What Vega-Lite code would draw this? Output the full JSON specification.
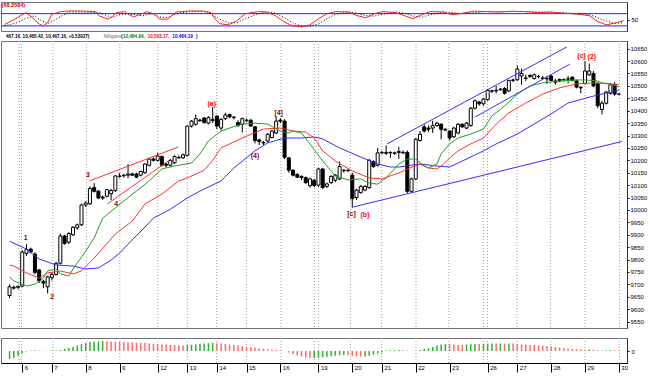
{
"$schema":"https://vega.github.io/schema/vega-lite/v6.json",
"background":"white",
"padding":{"top":1,"left":0,"right":0,"bottom":0},
"spacing":10,
"bounds":"flush",
"config":{"view":{"stroke":"#707070","strokeWidth":1},"font":"Liberation Sans","axis":{"labelFont":"Liberation Sans","labelFontSize":6,"labelColor":"black","tickColor":"black","domainColor":"black","grid":false,"labelOverlap":false,"tickCount":300}},
"datasets":{
"candles":[
{"b":-3,"o":9655,"h":9700,"l":9645,"c":9690},{"b":-2,"o":9688,"h":9695,"l":9678,"c":9685},{"b":-1,"o":9688,"h":9695,"l":9680,"c":9692},
{"b":0,"o":9693,"h":9838,"l":9688,"c":9830},{"b":1,"o":9825,"h":9862,"l":9815,"c":9840},{"b":2,"o":9842,"h":9848,"l":9825,"c":9830},
{"b":3,"o":9822,"h":9830,"l":9740,"c":9748},{"b":4,"o":9758,"h":9762,"l":9705,"c":9714},{"b":5,"o":9712,"h":9718,"l":9685,"c":9705},
{"b":6,"o":9690,"h":9735,"l":9663,"c":9730},{"b":7,"o":9728,"h":9748,"l":9715,"c":9740},{"b":8,"o":9740,"h":9790,"l":9735,"c":9785},
{"b":9,"o":9785,"h":9905,"l":9780,"c":9895},{"b":10,"o":9895,"h":9900,"l":9860,"c":9865},{"b":11,"o":9870,"h":9910,"l":9862,"c":9905},
{"b":12,"o":9900,"h":9935,"l":9895,"c":9930},{"b":13,"o":9928,"h":9945,"l":9920,"c":9940},{"b":14,"o":9940,"h":10025,"l":9935,"c":10020},
{"b":15,"o":10020,"h":10035,"l":10012,"c":10028},{"b":16,"o":10025,"h":10095,"l":10020,"c":10086},{"b":17,"o":10090,"h":10108,"l":10070,"c":10075},
{"b":18,"o":10076,"h":10080,"l":10045,"c":10048},{"b":19,"o":10052,"h":10058,"l":10040,"c":10048},{"b":20,"o":10055,"h":10085,"l":10050,"c":10082},
{"b":21,"o":10065,"h":10085,"l":10040,"c":10078},{"b":22,"o":10078,"h":10140,"l":10072,"c":10137},{"b":23,"o":10137,"h":10150,"l":10128,"c":10135},
{"b":24,"o":10138,"h":10145,"l":10130,"c":10140},{"b":25,"o":10140,"h":10185,"l":10128,"c":10145},{"b":26,"o":10145,"h":10150,"l":10138,"c":10140},
{"b":27,"o":10145,"h":10150,"l":10128,"c":10132},{"b":28,"o":10140,"h":10158,"l":10135,"c":10155},{"b":29,"o":10150,"h":10188,"l":10145,"c":10185},
{"b":30,"o":10180,"h":10210,"l":10175,"c":10205},{"b":31,"o":10205,"h":10212,"l":10195,"c":10200},{"b":32,"o":10200,"h":10230,"l":10195,"c":10217},
{"b":33,"o":10215,"h":10220,"l":10175,"c":10180},{"b":34,"o":10185,"h":10190,"l":10170,"c":10180},{"b":35,"o":10180,"h":10205,"l":10175,"c":10200},
{"b":36,"o":10190,"h":10220,"l":10185,"c":10215},{"b":37,"o":10212,"h":10220,"l":10205,"c":10210},{"b":38,"o":10210,"h":10228,"l":10205,"c":10222},
{"b":39,"o":10220,"h":10340,"l":10215,"c":10338},{"b":40,"o":10338,"h":10362,"l":10332,"c":10358},{"b":41,"o":10345,"h":10385,"l":10340,"c":10368},
{"b":42,"o":10362,"h":10368,"l":10355,"c":10360},{"b":43,"o":10370,"h":10375,"l":10348,"c":10352},{"b":44,"o":10350,"h":10378,"l":10345,"c":10372},
{"b":45,"o":10360,"h":10415,"l":10350,"c":10365},{"b":46,"o":10378,"h":10382,"l":10325,"c":10338},{"b":47,"o":10330,"h":10370,"l":10320,"c":10365},
{"b":48,"o":10368,"h":10392,"l":10362,"c":10383},{"b":49,"o":10385,"h":10388,"l":10370,"c":10375},{"b":50,"o":10374,"h":10378,"l":10365,"c":10372},
{"b":51,"o":10352,"h":10362,"l":10335,"c":10340},{"b":52,"o":10345,"h":10372,"l":10312,"c":10368},{"b":53,"o":10360,"h":10368,"l":10355,"c":10362},
{"b":54,"o":10362,"h":10365,"l":10335,"c":10338},{"b":55,"o":10335,"h":10338,"l":10268,"c":10280},{"b":56,"o":10282,"h":10288,"l":10262,"c":10275},
{"b":57,"o":10272,"h":10278,"l":10262,"c":10270},{"b":58,"o":10278,"h":10310,"l":10272,"c":10305},{"b":59,"o":10292,"h":10322,"l":10288,"c":10318},
{"b":60,"o":10310,"h":10375,"l":10305,"c":10358},{"b":61,"o":10362,"h":10370,"l":10350,"c":10358},{"b":62,"o":10358,"h":10366,"l":10205,"c":10212},
{"b":63,"o":10210,"h":10212,"l":10150,"c":10160},{"b":64,"o":10160,"h":10165,"l":10135,"c":10140},{"b":65,"o":10143,"h":10148,"l":10128,"c":10132},
{"b":66,"o":10135,"h":10140,"l":10120,"c":10130},{"b":67,"o":10130,"h":10135,"l":10105,"c":10110},{"b":68,"o":10098,"h":10130,"l":10090,"c":10125},
{"b":69,"o":10120,"h":10125,"l":10092,"c":10098},{"b":70,"o":10100,"h":10170,"l":10092,"c":10165},{"b":71,"o":10165,"h":10170,"l":10085,"c":10090},
{"b":72,"o":10095,"h":10110,"l":10088,"c":10105},{"b":73,"o":10110,"h":10140,"l":10105,"c":10135},{"b":74,"o":10120,"h":10145,"l":10112,"c":10140},
{"b":75,"o":10125,"h":10195,"l":10120,"c":10175},{"b":76,"o":10158,"h":10165,"l":10150,"c":10160},{"b":77,"o":10160,"h":10165,"l":10152,"c":10158},
{"b":78,"o":10140,"h":10150,"l":10010,"c":10045},{"b":79,"o":10050,"h":10085,"l":10040,"c":10080},{"b":80,"o":10070,"h":10100,"l":10065,"c":10095},
{"b":81,"o":10080,"h":10100,"l":10075,"c":10095},{"b":82,"o":10090,"h":10205,"l":10085,"c":10200},{"b":83,"o":10195,"h":10200,"l":10170,"c":10175},
{"b":84,"o":10180,"h":10250,"l":10175,"c":10230},{"b":85,"o":10230,"h":10238,"l":10225,"c":10232},{"b":86,"o":10228,"h":10260,"l":10222,"c":10232},
{"b":87,"o":10232,"h":10236,"l":10210,"c":10230},{"b":88,"o":10230,"h":10235,"l":10222,"c":10228},{"b":89,"o":10235,"h":10255,"l":10205,"c":10232},
{"b":90,"o":10232,"h":10240,"l":10225,"c":10230},{"b":91,"o":10232,"h":10240,"l":10068,"c":10075},{"b":92,"o":10075,"h":10130,"l":10070,"c":10125},
{"b":93,"o":10125,"h":10290,"l":10120,"c":10285},{"b":94,"o":10280,"h":10318,"l":10275,"c":10305},{"b":95,"o":10335,"h":10345,"l":10312,"c":10318},
{"b":96,"o":10330,"h":10340,"l":10315,"c":10325},{"b":97,"o":10330,"h":10360,"l":10310,"c":10340},{"b":98,"o":10340,"h":10355,"l":10335,"c":10350},
{"b":99,"o":10345,"h":10350,"l":10285,"c":10325},{"b":100,"o":10325,"h":10330,"l":10318,"c":10322},{"b":101,"o":10318,"h":10320,"l":10280,"c":10290},
{"b":102,"o":10295,"h":10335,"l":10290,"c":10330},{"b":103,"o":10310,"h":10350,"l":10305,"c":10345},{"b":104,"o":10345,"h":10350,"l":10330,"c":10335},
{"b":105,"o":10330,"h":10355,"l":10325,"c":10350},{"b":106,"o":10340,"h":10415,"l":10335,"c":10410},{"b":107,"o":10410,"h":10445,"l":10405,"c":10440},
{"b":108,"o":10435,"h":10440,"l":10420,"c":10428},{"b":109,"o":10428,"h":10452,"l":10420,"c":10447},{"b":110,"o":10445,"h":10488,"l":10440,"c":10482},
{"b":111,"o":10478,"h":10485,"l":10472,"c":10480},{"b":112,"o":10482,"h":10500,"l":10470,"c":10480},{"b":113,"o":10485,"h":10492,"l":10480,"c":10487},
{"b":114,"o":10490,"h":10495,"l":10465,"c":10470},{"b":115,"o":10480,"h":10525,"l":10475,"c":10522},{"b":116,"o":10522,"h":10530,"l":10515,"c":10524},
{"b":117,"o":10525,"h":10582,"l":10520,"c":10568},{"b":118,"o":10540,"h":10570,"l":10505,"c":10550},{"b":119,"o":10530,"h":10545,"l":10520,"c":10532},
{"b":120,"o":10538,"h":10548,"l":10532,"c":10542},{"b":121,"o":10530,"h":10550,"l":10525,"c":10545},{"b":122,"o":10538,"h":10545,"l":10530,"c":10538},
{"b":123,"o":10532,"h":10540,"l":10525,"c":10530},{"b":124,"o":10530,"h":10540,"l":10508,"c":10528},{"b":125,"o":10540,"h":10545,"l":10518,"c":10522},
{"b":126,"o":10520,"h":10528,"l":10505,"c":10515},{"b":127,"o":10526,"h":10530,"l":10515,"c":10520},{"b":128,"o":10525,"h":10530,"l":10518,"c":10525},
{"b":129,"o":10528,"h":10540,"l":10510,"c":10528},{"b":130,"o":10535,"h":10540,"l":10518,"c":10522},{"b":131,"o":10520,"h":10525,"l":10490,"c":10495},
{"b":132,"o":10495,"h":10498,"l":10470,"c":10492},{"b":133,"o":10510,"h":10600,"l":10505,"c":10560},{"b":134,"o":10545,"h":10590,"l":10540,"c":10560},
{"b":135,"o":10550,"h":10560,"l":10495,"c":10500},{"b":136,"o":10510,"h":10515,"l":10410,"c":10420},{"b":137,"o":10405,"h":10440,"l":10385,"c":10430},
{"b":138,"o":10430,"h":10480,"l":10425,"c":10475},{"b":139,"o":10470,"h":10510,"l":10465,"c":10505},{"b":140,"o":10505,"h":10515,"l":10460,"c":10467},
{"b":141,"o":10466.6,"h":10467.16,"l":10465.42,"c":10467.16}],
"ali":[
{"b":-3,"s":"jaw","v":9874},{"b":1,"s":"jaw","v":9842},{"b":4,"s":"jaw","v":9802},{"b":8,"s":"jaw","v":9778},{"b":12,"s":"jaw","v":9774},{"b":15,"s":"jaw","v":9762},{"b":18,"s":"jaw","v":9766},{"b":21,"s":"jaw","v":9798},{"b":23,"s":"jaw","v":9826},{"b":25,"s":"jaw","v":9862},{"b":29,"s":"jaw","v":9931},{"b":31,"s":"jaw","v":9967},{"b":35,"s":"jaw","v":10003},{"b":39,"s":"jaw","v":10048},{"b":42,"s":"jaw","v":10076},{"b":47,"s":"jaw","v":10117},{"b":50,"s":"jaw","v":10169},{"b":55,"s":"jaw","v":10238},{"b":58,"s":"jaw","v":10270},{"b":62,"s":"jaw","v":10290},{"b":66,"s":"jaw","v":10290},{"b":69,"s":"jaw","v":10294},{"b":71,"s":"jaw","v":10286},{"b":75,"s":"jaw","v":10250},{"b":80,"s":"jaw","v":10213},{"b":84,"s":"jaw","v":10185},{"b":87,"s":"jaw","v":10173},{"b":89,"s":"jaw","v":10173},{"b":94,"s":"jaw","v":10185},{"b":98,"s":"jaw","v":10177},{"b":101,"s":"jaw","v":10173},{"b":104,"s":"jaw","v":10197},{"b":109,"s":"jaw","v":10238},{"b":112,"s":"jaw","v":10266},{"b":117,"s":"jaw","v":10306},{"b":125,"s":"jaw","v":10387},{"b":129,"s":"jaw","v":10431},{"b":135,"s":"jaw","v":10459},{"b":139,"s":"jaw","v":10475},{"b":141,"s":"jaw","v":10483},
{"b":-3,"s":"teeth","v":9778},{"b":-2,"s":"teeth","v":9774},{"b":1,"s":"teeth","v":9746},{"b":4,"s":"teeth","v":9725},{"b":6,"s":"teeth","v":9746},{"b":9,"s":"teeth","v":9754},{"b":12,"s":"teeth","v":9742},{"b":14,"s":"teeth","v":9754},{"b":17,"s":"teeth","v":9806},{"b":22,"s":"teeth","v":9903},{"b":26,"s":"teeth","v":9955},{"b":29,"s":"teeth","v":10024},{"b":33,"s":"teeth","v":10064},{"b":37,"s":"teeth","v":10117},{"b":39,"s":"teeth","v":10129},{"b":43,"s":"teeth","v":10160},{"b":45,"s":"teeth","v":10200},{"b":47,"s":"teeth","v":10250},{"b":52,"s":"teeth","v":10290},{"b":57,"s":"teeth","v":10326},{"b":61,"s":"teeth","v":10330},{"b":64,"s":"teeth","v":10318},{"b":67,"s":"teeth","v":10314},{"b":69,"s":"teeth","v":10290},{"b":71,"s":"teeth","v":10238},{"b":74,"s":"teeth","v":10197},{"b":78,"s":"teeth","v":10157},{"b":82,"s":"teeth","v":10129},{"b":85,"s":"teeth","v":10125},{"b":87,"s":"teeth","v":10137},{"b":89,"s":"teeth","v":10149},{"b":91,"s":"teeth","v":10165},{"b":94,"s":"teeth","v":10185},{"b":96,"s":"teeth","v":10169},{"b":98,"s":"teeth","v":10165},{"b":99,"s":"teeth","v":10177},{"b":101,"s":"teeth","v":10209},{"b":103,"s":"teeth","v":10238},{"b":106,"s":"teeth","v":10266},{"b":109,"s":"teeth","v":10290},{"b":112,"s":"teeth","v":10346},{"b":115,"s":"teeth","v":10391},{"b":119,"s":"teeth","v":10431},{"b":123,"s":"teeth","v":10467},{"b":127,"s":"teeth","v":10492},{"b":131,"s":"teeth","v":10508},{"b":135,"s":"teeth","v":10512},{"b":139,"s":"teeth","v":10508},{"b":141,"s":"teeth","v":10505},
{"b":-3,"s":"lips","v":9730},{"b":-2,"s":"lips","v":9714},{"b":1,"s":"lips","v":9693},{"b":3,"s":"lips","v":9701},{"b":5,"s":"lips","v":9725},{"b":6,"s":"lips","v":9754},{"b":8,"s":"lips","v":9762},{"b":9,"s":"lips","v":9742},{"b":11,"s":"lips","v":9734},{"b":12,"s":"lips","v":9762},{"b":15,"s":"lips","v":9834},{"b":17,"s":"lips","v":9887},{"b":19,"s":"lips","v":9967},{"b":22,"s":"lips","v":10008},{"b":24,"s":"lips","v":10036},{"b":27,"s":"lips","v":10076},{"b":30,"s":"lips","v":10117},{"b":33,"s":"lips","v":10165},{"b":36,"s":"lips","v":10177},{"b":40,"s":"lips","v":10189},{"b":42,"s":"lips","v":10226},{"b":44,"s":"lips","v":10278},{"b":47,"s":"lips","v":10318},{"b":49,"s":"lips","v":10330},{"b":52,"s":"lips","v":10346},{"b":55,"s":"lips","v":10350},{"b":58,"s":"lips","v":10346},{"b":61,"s":"lips","v":10318},{"b":63,"s":"lips","v":10310},{"b":64,"s":"lips","v":10318},{"b":66,"s":"lips","v":10310},{"b":68,"s":"lips","v":10266},{"b":71,"s":"lips","v":10197},{"b":74,"s":"lips","v":10137},{"b":77,"s":"lips","v":10121},{"b":80,"s":"lips","v":10125},{"b":82,"s":"lips","v":10108},{"b":84,"s":"lips","v":10104},{"b":86,"s":"lips","v":10129},{"b":89,"s":"lips","v":10185},{"b":91,"s":"lips","v":10205},{"b":93,"s":"lips","v":10205},{"b":95,"s":"lips","v":10177},{"b":96,"s":"lips","v":10169},{"b":98,"s":"lips","v":10185},{"b":99,"s":"lips","v":10226},{"b":101,"s":"lips","v":10266},{"b":103,"s":"lips","v":10290},{"b":106,"s":"lips","v":10306},{"b":109,"s":"lips","v":10326},{"b":111,"s":"lips","v":10379},{"b":114,"s":"lips","v":10419},{"b":117,"s":"lips","v":10467},{"b":120,"s":"lips","v":10500},{"b":123,"s":"lips","v":10512},{"b":127,"s":"lips","v":10520},{"b":131,"s":"lips","v":10524},{"b":133,"s":"lips","v":10524},{"b":136,"s":"lips","v":10520},{"b":137,"s":"lips","v":10512},{"b":139,"s":"lips","v":10508},{"b":141,"s":"lips","v":10496}],
"trend":[
{"id":"r1","b":15.9,"p":10117},{"id":"r1","b":36.9,"p":10254},
{"id":"r2","b":20.1,"p":10024},{"id":"r2","b":34.5,"p":10197},
{"id":"b1","b":86.2,"p":10266},{"id":"b1","b":128.7,"p":10657},
{"id":"b2","b":107.1,"p":10375},{"id":"b2","b":129.4,"p":10588},
{"id":"b3","b":78,"p":10011},{"id":"b3","b":141.74,"p":10276}],
"labels":[
{"b":0.8,"p":9887,"t":"1","deg":"minute"},{"b":7.1,"p":9649,"t":"2","deg":"minute"},{"b":15.5,"p":10141,"t":"3","deg":"minute"},{"b":22.2,"p":10024,"t":"4","deg":"minute"},
{"b":44.8,"p":10427,"t":"(a)","deg":"minor"},{"b":55,"p":10217,"t":"(4)","deg":"minute"},{"b":60.6,"p":10391,"t":"[4]","deg":"minute"},
{"b":77.8,"p":9983,"t":"[c]","deg":"minute"},{"b":81,"p":9979,"t":"(b)","deg":"minor"},{"b":132.2,"p":10620,"t":"(c)","deg":"minor"},{"b":134.6,"p":10617,"t":"(2)","deg":"minor"}],
"hdr":[
{"b":-3.84,"t":"467.16, 10,465.42, 10,467.16, +0.53027)","part":"k"},
{"b":19.2,"t":"Alligator","part":"grey"},
{"b":23.4,"t":"(","part":"k"},
{"b":23.84,"t":"10,484.94,","part":"g"},
{"b":29.65,"t":"10,503.17,","part":"r"},
{"b":35.47,"t":"10,484.19","part":"bl"},
{"b":41.05,"t":")","part":"k"}],
"grid":[{"b":-0.74},{"b":-0.19},{"b":7.26},{"b":15.16},{"b":23.07},{"b":32.05},{"b":39.02},{"b":45.93},{"b":52.98},{"b":61.12},{"b":69.02},{"b":70.05},{"b":77.56},{"b":84.93},{"b":93.07},{"b":100.81},{"b":108.95},{"b":109.95},{"b":116.93},{"b":124.84},{"b":132.98},{"b":141.12}],
"osc":[
{"b":-3,"s":"k","v":27},{"b":-1,"s":"k","v":48},{"b":1,"s":"k","v":74},{"b":2,"s":"k","v":85},{"b":3,"s":"k","v":69},{"b":5,"s":"k","v":30},{"b":6,"s":"k","v":20},{"b":7,"s":"k","v":36},{"b":8,"s":"k","v":77},{"b":10,"s":"k","v":90},{"b":12,"s":"k","v":93},{"b":15,"s":"k","v":93},{"b":18,"s":"k","v":90},{"b":19,"s":"k","v":69},{"b":21,"s":"k","v":53},{"b":22,"s":"k","v":64},{"b":23,"s":"k","v":85},{"b":25,"s":"k","v":90},{"b":26,"s":"k","v":74},{"b":27,"s":"k","v":64},{"b":29,"s":"k","v":80},{"b":30,"s":"k","v":90},{"b":32,"s":"k","v":77},{"b":33,"s":"k","v":53},{"b":35,"s":"k","v":53},{"b":36,"s":"k","v":74},{"b":37,"s":"k","v":88},{"b":40,"s":"k","v":93},{"b":43,"s":"k","v":93},{"b":45,"s":"k","v":85},{"b":46,"s":"k","v":53},{"b":47,"s":"k","v":31},{"b":49,"s":"k","v":25},{"b":51,"s":"k","v":45},{"b":53,"s":"k","v":80},{"b":56,"s":"k","v":90},{"b":58,"s":"k","v":88},{"b":60,"s":"k","v":70},{"b":62,"s":"k","v":40},{"b":64,"s":"k","v":20},{"b":66,"s":"k","v":15},{"b":68,"s":"k","v":25},{"b":70,"s":"k","v":55},{"b":72,"s":"k","v":80},{"b":74,"s":"k","v":90},{"b":77,"s":"k","v":88},{"b":79,"s":"k","v":70},{"b":81,"s":"k","v":60},{"b":83,"s":"k","v":80},{"b":85,"s":"k","v":90},{"b":88,"s":"k","v":85},{"b":90,"s":"k","v":70},{"b":92,"s":"k","v":55},{"b":94,"s":"k","v":75},{"b":96,"s":"k","v":90},{"b":99,"s":"k","v":88},{"b":101,"s":"k","v":75},{"b":103,"s":"k","v":80},{"b":106,"s":"k","v":92},{"b":109,"s":"k","v":90},{"b":112,"s":"k","v":88},{"b":115,"s":"k","v":92},{"b":118,"s":"k","v":90},{"b":121,"s":"k","v":85},{"b":124,"s":"k","v":88},{"b":127,"s":"k","v":82},{"b":130,"s":"k","v":78},{"b":133,"s":"k","v":70},{"b":135,"s":"k","v":40},{"b":137,"s":"k","v":25},{"b":139,"s":"k","v":35},{"b":141,"s":"k","v":45},
{"b":-3,"s":"d","v":20},{"b":0,"s":"d","v":36},{"b":2,"s":"d","v":58},{"b":4,"s":"d","v":69},{"b":5,"s":"d","v":53},{"b":7,"s":"d","v":30},{"b":9,"s":"d","v":53},{"b":11,"s":"d","v":77},{"b":12,"s":"d","v":88},{"b":19,"s":"d","v":85},{"b":21,"s":"d","v":69},{"b":22,"s":"d","v":61},{"b":24,"s":"d","v":77},{"b":27,"s":"d","v":77},{"b":29,"s":"d","v":69},{"b":31,"s":"d","v":80},{"b":33,"s":"d","v":64},{"b":35,"s":"d","v":61},{"b":37,"s":"d","v":80},{"b":40,"s":"d","v":90},{"b":44,"s":"d","v":90},{"b":47,"s":"d","v":53},{"b":49,"s":"d","v":35},{"b":51,"s":"d","v":35},{"b":53,"s":"d","v":55},{"b":56,"s":"d","v":80},{"b":58,"s":"d","v":88},{"b":60,"s":"d","v":82},{"b":62,"s":"d","v":60},{"b":64,"s":"d","v":35},{"b":66,"s":"d","v":20},{"b":68,"s":"d","v":18},{"b":70,"s":"d","v":30},{"b":72,"s":"d","v":55},{"b":74,"s":"d","v":78},{"b":77,"s":"d","v":88},{"b":79,"s":"d","v":82},{"b":81,"s":"d","v":70},{"b":83,"s":"d","v":68},{"b":85,"s":"d","v":78},{"b":88,"s":"d","v":88},{"b":90,"s":"d","v":82},{"b":92,"s":"d","v":68},{"b":94,"s":"d","v":62},{"b":96,"s":"d","v":75},{"b":99,"s":"d","v":88},{"b":101,"s":"d","v":85},{"b":103,"s":"d","v":80},{"b":106,"s":"d","v":85},{"b":109,"s":"d","v":90},{"b":112,"s":"d","v":89},{"b":115,"s":"d","v":90},{"b":118,"s":"d","v":90},{"b":121,"s":"d","v":88},{"b":124,"s":"d","v":87},{"b":127,"s":"d","v":85},{"b":130,"s":"d","v":80},{"b":133,"s":"d","v":75},{"b":135,"s":"d","v":60},{"b":137,"s":"d","v":42},{"b":139,"s":"d","v":32},{"b":141,"s":"d","v":35}],
"lvl":[{"v":80},{"v":20}],
"osclabel":[{"b":-3.7,"v":122,"t":"(68.3584)"}],
"ao":[
{"b":-3,"v":-160,"dir":"up"},{"b":-2,"v":-140,"dir":"up"},{"b":-1,"v":-100,"dir":"up"},{"b":0,"v":-40,"dir":"up"},{"b":1,"v":-10,"dir":"up"},{"b":2,"v":10,"dir":"up"},{"b":3,"v":15,"dir":"up"},{"b":4,"v":10,"dir":"down"},{"b":5,"v":5,"dir":"down"},{"b":6,"v":2,"dir":"down"},{"b":7,"v":5,"dir":"up"},{"b":8,"v":10,"dir":"up"},{"b":9,"v":20,"dir":"up"},{"b":10,"v":40,"dir":"up"},{"b":11,"v":60,"dir":"up"},{"b":12,"v":80,"dir":"up"},{"b":13,"v":110,"dir":"up"},{"b":14,"v":140,"dir":"up"},{"b":15,"v":160,"dir":"up"},{"b":16,"v":180,"dir":"up"},{"b":17,"v":190,"dir":"up"},{"b":18,"v":195,"dir":"up"},{"b":19,"v":200,"dir":"up"},
{"b":20,"v":195,"dir":"down"},{"b":21,"v":190,"dir":"down"},{"b":22,"v":185,"dir":"down"},{"b":23,"v":182,"dir":"down"},{"b":24,"v":178,"dir":"down"},{"b":25,"v":175,"dir":"down"},{"b":26,"v":170,"dir":"down"},{"b":27,"v":166,"dir":"down"},{"b":28,"v":162,"dir":"down"},{"b":29,"v":158,"dir":"down"},{"b":30,"v":150,"dir":"down"},{"b":31,"v":145,"dir":"down"},{"b":32,"v":140,"dir":"down"},{"b":33,"v":135,"dir":"down"},{"b":34,"v":128,"dir":"down"},{"b":35,"v":122,"dir":"down"},{"b":36,"v":118,"dir":"down"},{"b":37,"v":112,"dir":"down"},{"b":38,"v":108,"dir":"down"},
{"b":39,"v":115,"dir":"up"},{"b":40,"v":125,"dir":"up"},{"b":41,"v":135,"dir":"up"},{"b":42,"v":145,"dir":"up"},{"b":43,"v":150,"dir":"up"},{"b":44,"v":155,"dir":"up"},{"b":45,"v":160,"dir":"up"},
{"b":46,"v":155,"dir":"down"},{"b":47,"v":150,"dir":"down"},{"b":48,"v":140,"dir":"down"},{"b":49,"v":130,"dir":"down"},{"b":50,"v":120,"dir":"down"},{"b":51,"v":110,"dir":"down"},{"b":52,"v":95,"dir":"down"},{"b":53,"v":85,"dir":"down"},{"b":54,"v":75,"dir":"down"},{"b":55,"v":65,"dir":"down"},{"b":56,"v":55,"dir":"down"},{"b":57,"v":45,"dir":"down"},{"b":58,"v":35,"dir":"down"},{"b":59,"v":25,"dir":"down"},{"b":60,"v":18,"dir":"down"},{"b":61,"v":10,"dir":"down"},{"b":62,"v":2,"dir":"down"},{"b":63,"v":-30,"dir":"down"},{"b":64,"v":-60,"dir":"down"},{"b":65,"v":-90,"dir":"down"},{"b":66,"v":-110,"dir":"down"},{"b":67,"v":-130,"dir":"down"},{"b":68,"v":-140,"dir":"down"},
{"b":69,"v":-138,"dir":"up"},{"b":70,"v":-135,"dir":"up"},{"b":71,"v":-125,"dir":"up"},{"b":72,"v":-115,"dir":"up"},{"b":73,"v":-105,"dir":"up"},{"b":74,"v":-95,"dir":"up"},{"b":75,"v":-85,"dir":"up"},{"b":76,"v":-80,"dir":"up"},
{"b":77,"v":-85,"dir":"down"},{"b":78,"v":-100,"dir":"down"},{"b":79,"v":-110,"dir":"down"},{"b":80,"v":-115,"dir":"down"},
{"b":81,"v":-112,"dir":"up"},{"b":82,"v":-95,"dir":"up"},{"b":83,"v":-75,"dir":"up"},{"b":84,"v":-50,"dir":"up"},{"b":85,"v":-25,"dir":"up"},{"b":86,"v":10,"dir":"up"},{"b":87,"v":15,"dir":"up"},{"b":88,"v":16,"dir":"up"},{"b":89,"v":20,"dir":"up"},
{"b":90,"v":15,"dir":"down"},{"b":91,"v":10,"dir":"down"},{"b":92,"v":5,"dir":"down"},{"b":93,"v":3,"dir":"down"},
{"b":94,"v":20,"dir":"up"},{"b":95,"v":40,"dir":"up"},{"b":96,"v":60,"dir":"up"},{"b":97,"v":80,"dir":"up"},{"b":98,"v":110,"dir":"up"},{"b":99,"v":130,"dir":"up"},{"b":100,"v":140,"dir":"up"},
{"b":101,"v":135,"dir":"down"},{"b":102,"v":130,"dir":"down"},{"b":103,"v":125,"dir":"down"},{"b":104,"v":124,"dir":"down"},
{"b":105,"v":128,"dir":"up"},{"b":106,"v":135,"dir":"up"},{"b":107,"v":140,"dir":"up"},{"b":108,"v":138,"dir":"down"},{"b":109,"v":145,"dir":"up"},{"b":110,"v":150,"dir":"up"},{"b":111,"v":151,"dir":"up"},{"b":112,"v":148,"dir":"down"},{"b":113,"v":150,"dir":"up"},{"b":114,"v":148,"dir":"down"},{"b":115,"v":150,"dir":"up"},
{"b":116,"v":148,"dir":"down"},{"b":117,"v":140,"dir":"down"},{"b":118,"v":135,"dir":"down"},{"b":119,"v":130,"dir":"down"},{"b":120,"v":125,"dir":"down"},{"b":121,"v":118,"dir":"down"},{"b":122,"v":110,"dir":"down"},{"b":123,"v":105,"dir":"down"},{"b":124,"v":100,"dir":"down"},{"b":125,"v":90,"dir":"down"},{"b":126,"v":80,"dir":"down"},{"b":127,"v":70,"dir":"down"},{"b":128,"v":60,"dir":"down"},{"b":129,"v":50,"dir":"down"},{"b":130,"v":40,"dir":"down"},{"b":131,"v":35,"dir":"down"},{"b":132,"v":30,"dir":"down"},{"b":133,"v":25,"dir":"down"},
{"b":134,"v":30,"dir":"up"},{"b":135,"v":25,"dir":"down"},{"b":136,"v":15,"dir":"down"},{"b":137,"v":10,"dir":"down"},{"b":138,"v":15,"dir":"up"},{"b":139,"v":20,"dir":"up"},{"b":140,"v":15,"dir":"down"},{"b":141,"v":10,"dir":"down"}]
},
"vconcat":[
{
"width":626,"height":29,
"layer":[
{"data":{"name":"lvl"},"mark":{"type":"rule","color":"#2020ff","strokeWidth":1},"encoding":{"y":{"field":"v","type":"quantitative","scale":{"domain":[-5,137],"nice":false,"zero":false},"axis":{"orient":"right","values":[50],"format":"d","title":null,"tickSize":2,"labelPadding":2,"domainDash":[1,1]}}}},
{"data":{"name":"osc"},"transform":[{"filter":"datum.s==='d'"}],"mark":{"type":"line","color":"#000000","strokeWidth":1,"strokeDash":[1,2]},"encoding":{"x":{"field":"b","type":"quantitative","scale":{"domain":[-3.84,141.74],"nice":false,"zero":false},"axis":null},"y":{"field":"v","type":"quantitative"}}},
{"data":{"name":"osc"},"transform":[{"filter":"datum.s==='k'"}],"mark":{"type":"line","color":"#ff2020","strokeWidth":1},"encoding":{"x":{"field":"b","type":"quantitative","axis":null},"y":{"field":"v","type":"quantitative"}}},
{"data":{"name":"osclabel"},"mark":{"type":"text","align":"left","baseline":"middle","color":"#e00000","fontSize":5.5,"fontWeight":"bold"},"encoding":{"x":{"field":"b","type":"quantitative","axis":null},"y":{"field":"v","type":"quantitative"},"text":{"field":"t"}}}
]
},
{
"width":626,"height":287,
"layer":[
{"data":{"name":"grid"},"mark":{"type":"rule","color":"#a0a0a0","strokeWidth":1,"strokeDash":[1,2]},"encoding":{"x":{"field":"b","type":"quantitative","scale":{"domain":[-3.84,141.74],"nice":false,"zero":false},"axis":null}}},
{"data":{"name":"candles"},"mark":{"type":"rule","color":"black","strokeWidth":1},"encoding":{"x":{"field":"b","type":"quantitative","axis":null},"y":{"field":"l","type":"quantitative","scale":{"domain":[9524,10681],"nice":false,"zero":false},"axis":{"orient":"right","title":null,"values":[9550,9600,9650,9700,9750,9800,9850,9900,9950,10000,10050,10100,10150,10200,10250,10300,10350,10400,10450,10500,10550,10600,10650],"tickCount":300,"format":"d","tickSize":2,"labelPadding":1,"domainDash":[1,1],"labelFlush":false,"labelOverlap":false}},"y2":{"field":"h"}}},
{"data":{"name":"candles"},"mark":{"type":"bar","width":3,"stroke":"black","strokeWidth":1},"encoding":{"x":{"field":"b","type":"quantitative","axis":null},"y":{"field":"o","type":"quantitative"},"y2":{"field":"c"},"fill":{"condition":{"test":"datum.c < datum.o","value":"black"},"value":"white"}}},
{"data":{"name":"ali"},"transform":[{"filter":"datum.s==='jaw'"}],"mark":{"type":"line","color":"#3030ff","strokeWidth":1},"encoding":{"x":{"field":"b","type":"quantitative","axis":null},"y":{"field":"v","type":"quantitative"}}},
{"data":{"name":"ali"},"transform":[{"filter":"datum.s==='teeth'"}],"mark":{"type":"line","color":"#ff3030","strokeWidth":1},"encoding":{"x":{"field":"b","type":"quantitative","axis":null},"y":{"field":"v","type":"quantitative"}}},
{"data":{"name":"ali"},"transform":[{"filter":"datum.s==='lips'"}],"mark":{"type":"line","color":"#20a020","strokeWidth":1},"encoding":{"x":{"field":"b","type":"quantitative","axis":null},"y":{"field":"v","type":"quantitative"}}},
{"data":{"name":"trend"},"transform":[{"filter":"datum.id[0]==='r'"}],"mark":{"type":"line","color":"#ff3030","strokeWidth":1},"encoding":{"x":{"field":"b","type":"quantitative","axis":null},"y":{"field":"p","type":"quantitative"},"detail":{"field":"id"}}},
{"data":{"name":"trend"},"transform":[{"filter":"datum.id[0]==='b'"}],"mark":{"type":"line","color":"#3030ff","strokeWidth":1},"encoding":{"x":{"field":"b","type":"quantitative","axis":null},"y":{"field":"p","type":"quantitative"},"detail":{"field":"id"}}},
{"data":{"name":"labels"},"transform":[{"filter":"datum.deg==='minor'"}],"mark":{"type":"text","align":"center","baseline":"middle","fontSize":7,"fontWeight":"bold","color":"#ff0000"},"encoding":{"x":{"field":"b","type":"quantitative","axis":null},"y":{"field":"p","type":"quantitative"},"text":{"field":"t"}}},
{"data":{"name":"labels"},"transform":[{"filter":"datum.deg==='minute'"}],"mark":{"type":"text","align":"center","baseline":"middle","fontSize":7,"fontWeight":"bold","color":"#990000"},"encoding":{"x":{"field":"b","type":"quantitative","axis":null},"y":{"field":"p","type":"quantitative"},"text":{"field":"t"}}},
{"data":{"name":"hdr"},"mark":{"type":"text","align":"left","baseline":"middle","fontSize":4.6,"fontWeight":"bold"},"encoding":{"x":{"field":"b","type":"quantitative","axis":null},"y":{"datum":10697,"type":"quantitative"},"text":{"field":"t"},"color":{"field":"part","type":"nominal","scale":{"domain":["k","grey","g","r","bl"],"range":["#000000","#909090","#008000","#ff0000","#0000ff"]},"legend":null}}}
]
},
{
"width":626,"height":25,
"layer":[
{"data":{"name":"grid"},"mark":{"type":"rule","color":"#a0a0a0","strokeWidth":1,"strokeDash":[1,2]},"encoding":{"x":{"field":"b","type":"quantitative","scale":{"domain":[-3.84,141.74],"nice":false,"zero":false},"axis":{"orient":"bottom","title":null,"values":[0,7,15,23,32,39,46,53,61,70,78,85,93,101,110,117,125,133,141],"tickCount":300,"labelExpr":"['6','7','8','9','12','13','14','15','16','19','20','21','22','23','26','27','28','29','30'][indexof([0,7,15,23,32,39,46,53,61,70,78,85,93,101,110,117,125,133,141], round(datum.value))]","tickSize":9,"labelPadding":-8,"labelAlign":"left","labelBaseline":"top","labelOffset":2,"labelFontSize":6,"labelFlush":false,"labelOverlap":false,"domainColor":"black"}}}},
{"data":{"name":"ao"},"mark":{"type":"bar","width":1.5},"encoding":{"x":{"field":"b","type":"quantitative"},"y":{"field":"v","type":"quantitative","scale":{"domain":[-240,260],"nice":false,"zero":false},"axis":{"orient":"right","title":null,"values":[0],"format":"d","tickSize":2,"labelPadding":2,"domainDash":[1,1]}},"y2":{"datum":0},"color":{"condition":{"test":"datum.dir==='up'","value":"#30b030"},"value":"#ff6a6a"}}}
]
}
]
}
